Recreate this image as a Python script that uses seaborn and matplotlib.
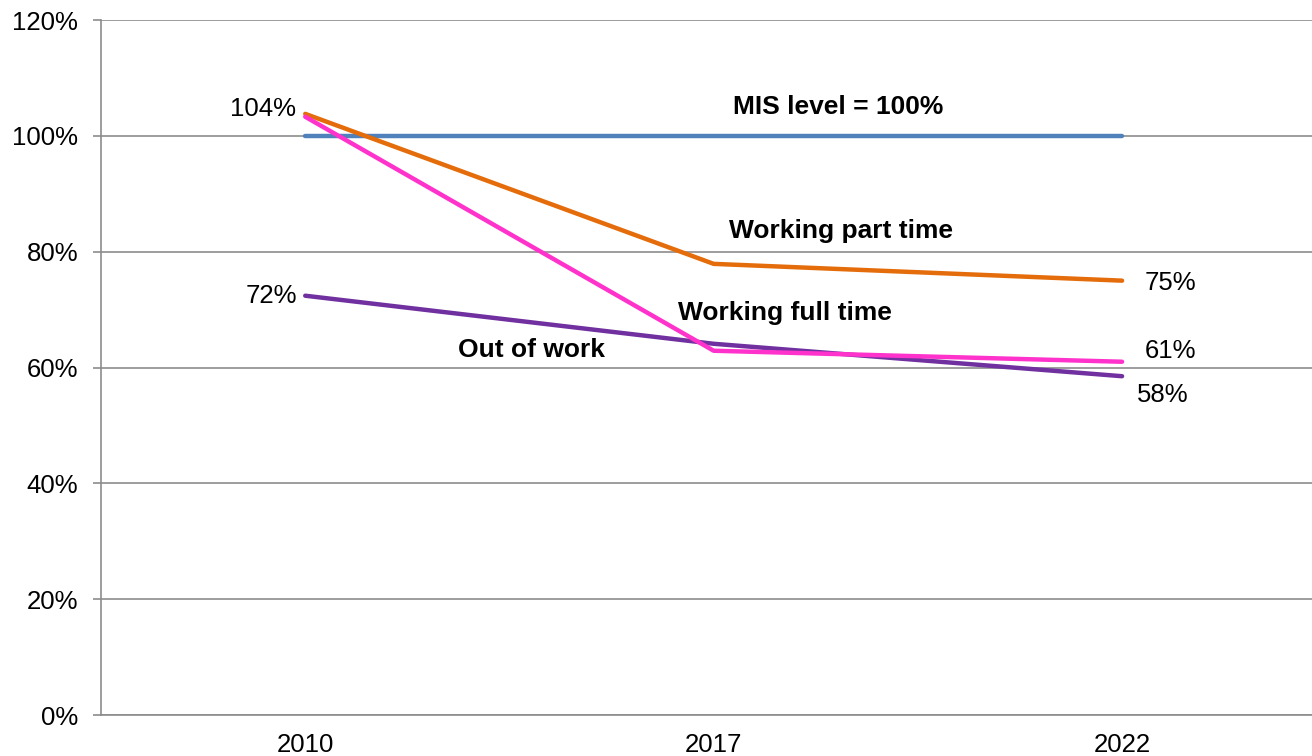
import pandas as pd
import matplotlib.pyplot as plt
from matplotlib.ticker import FixedLocator, PercentFormatter
import seaborn as sns

# data (% of MIS)
years = ['2010', '2017', '2022']
mis_level = [100, 100, 100]
part_time = [103.8, 77.9, 75.0]
out_of_work = [72.4, 64.1, 58.5]
full_time = [103.3, 62.9, 61.0]

series_names = ['MIS level', 'Working part time', 'Out of work', 'Working full time']
colors = ['#4F81BD', '#E46C0A', '#7030A0', '#FF33CC']

df = pd.DataFrame({
    'year': years * 4,
    'pos': [0, 1, 2] * 4,
    'value': mis_level + part_time + out_of_work + full_time,
    'series': [s for s in series_names for _ in years],
})

sns.set_style('white')
plt.rcParams['font.family'] = ['Liberation Sans', 'DejaVu Sans']
plt.rcParams['text.color'] = 'black'
plt.rcParams['xtick.labelcolor'] = 'black'
plt.rcParams['ytick.labelcolor'] = 'black'

fig = plt.figure(figsize=(13.12, 7.56), dpi=100)
ax = fig.add_axes([0.077, 0.0542, 0.923, 0.9193])

sns.lineplot(data=df, x='pos', y='value', hue='series', hue_order=series_names,
             palette=colors, linewidth=3.2, legend=False, ax=ax,
             solid_capstyle='round')

ax.set_xlim(-0.5, 2.465)
ax.set_ylim(0, 120)
ax.set_xlabel('')
ax.set_ylabel('')

# gridlines
grid_col = '#8C8C8C'
ax.yaxis.set_major_locator(FixedLocator([0, 20, 40, 60, 80, 100, 120]))
ax.yaxis.set_major_formatter(PercentFormatter(decimals=0))
ax.grid(axis='y', color=grid_col, linewidth=1.2)
ax.set_axisbelow(True)
for s in ['top', 'right']:
    ax.spines[s].set_visible(False)
for s in ['left', 'bottom']:
    ax.spines[s].set_color(grid_col)
    ax.spines[s].set_linewidth(1.2)

fs = 18.5
ax.set_xticks([0, 1, 2])
ax.set_xticklabels(years)
ax.set_xticks([-0.5, 0.5, 1.5], minor=True)
ax.tick_params(axis='x', which='major', length=0, pad=13, labelsize=fs)
ax.tick_params(axis='x', which='minor', length=5.5, width=1.2, color=grid_col, direction='out')
ax.tick_params(axis='y', length=5.5, width=1.2, color=grid_col, direction='out', pad=11, labelsize=fs,
               left=True)

# series labels
bold = dict(fontsize=19, fontweight='bold', ha='center', va='center')
ax.text(1.305, 105.0, 'MIS level = 100%', **bold)
ax.text(1.312, 83.6, 'Working part time', **bold)
ax.text(1.175, 69.4, 'Working full time', **bold)
ax.text(0.553, 63.0, 'Out of work', **bold)

# data labels
def label(x, y, txt, dx, dy, ha):
    ax.annotate(txt, (x, y), xytext=(dx, dy), textcoords='offset pixels',
                ha=ha, va='center', fontsize=fs)

label(0, part_time[0], '104%', -9, 5, 'right')
label(0, out_of_work[0], '72%', -8, 0, 'right')
label(2, part_time[2], '75%', 23, -2, 'left')
label(2, full_time[2], '61%', 23, 11, 'left')
label(2, out_of_work[2], '58%', 15, -19, 'left')

fig.savefig('out.png', dpi=100)
